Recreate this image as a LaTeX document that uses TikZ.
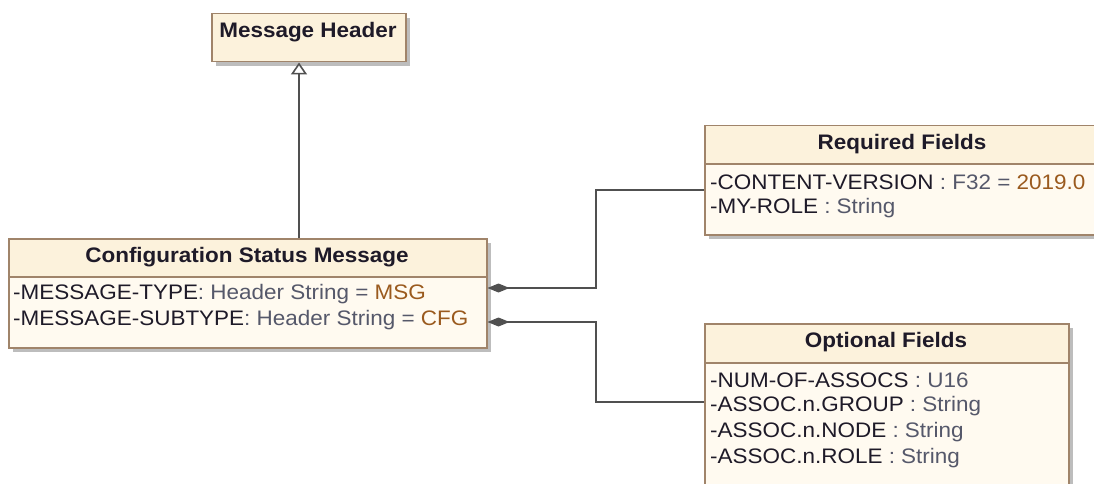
\documentclass[tikz,border=0pt]{standalone}
\usepackage{fontspec}
\setmainfont{Liberation Sans}[FakeStretch=1.07]
\usetikzlibrary{arrows.meta,calc,shadows}
\definecolor{bord}{HTML}{A0846A}
\definecolor{hfill}{HTML}{FCF2DC}
\definecolor{bfill}{HTML}{FFFAF0}
\definecolor{nm}{HTML}{1E1A28}
\definecolor{ty}{HTML}{55586A}
\definecolor{vl}{HTML}{9A5A1E}
\definecolor{ln}{HTML}{505050}
\definecolor{shd}{HTML}{BDBDBD}
\newcommand\aname[1]{\textcolor{nm}{#1}}
\newcommand\atype[1]{\textcolor{ty}{#1}}
\newcommand\aval[1]{\textcolor{vl}{#1}}
\begin{document}
\begin{tikzpicture}[x=1pt,y=-1pt,
  comp/.style={draw=bord, line width=1.5pt, inner sep=0pt, anchor=north west,
    drop shadow={shadow xshift=4pt, shadow yshift=-4pt, fill=shd, opacity=1}},
  hdr/.style={comp, fill=hfill},
  bdy/.style={comp, fill=bfill},
  ttl/.style={font=\bfseries\fontsize{21}{25}\selectfont, text=nm, inner sep=0pt},
  attr/.style={font=\fontsize{21}{25}\selectfont, text=nm, anchor=west, inner sep=0pt},
  conn/.style={draw=ln, line width=2pt},
  gen/.style={draw=ln, line width=1.6pt},
]
\useasboundingbox (0,0) rectangle (1094,484);
\clip (0,0) rectangle (1094,484);

% Message Header
\node[hdr, minimum width=194pt, minimum height=48pt] (mh) at (211,13) {};
\node[ttl] (mhT) at (308,32) {Message Header};

% Configuration Status Message
\node[hdr, minimum width=478pt, minimum height=38pt] (csmh) at (8,238) {};
\node[bdy, minimum width=478pt, minimum height=71pt] (csmb) at (8,276) {};
\node[ttl] (csmT) at (247,257) {Configuration Status Message};
\node[attr] (csm1) at (13,294) {\aname{-MESSAGE-TYPE}\atype{: Header String = }\aval{MSG}};
\node[attr] (csm2) at (13,320) {\aname{-MESSAGE-SUBTYPE}\atype{: Header String = }\aval{CFG}};

% Required Fields
\node[hdr, minimum width=396pt, minimum height=38pt] (rfh) at (704,125) {};
\node[bdy, minimum width=396pt, minimum height=71pt] (rfb) at (704,163) {};
\node[ttl] (rfT) at (902,144) {Required Fields};
\node[attr] (rf1) at (710,182) {\aname{-CONTENT-VERSION} \atype{: F32 = }\aval{2019.0}};
\node[attr] (rf2) at (710,208) {\aname{-MY-ROLE} \atype{: String}};

% Optional Fields
\node[hdr, minimum width=364pt, minimum height=39pt] (ofh) at (704,323) {};
\node[bdy, minimum width=364pt, minimum height=140pt] (ofb) at (704,362) {};
\node[ttl] (ofT) at (886,342) {Optional Fields};
\node[attr] (of1) at (710,380) {\aname{-NUM-OF-ASSOCS} \atype{: U16}};
\node[attr] (of2) at (710,406) {\aname{-ASSOC.n.GROUP} \atype{: String}};
\node[attr] (of3) at (710,432) {\aname{-ASSOC.n.NODE} \atype{: String}};
\node[attr] (of4) at (710,458) {\aname{-ASSOC.n.ROLE} \atype{: String}};

% Generalization
\coordinate (g) at ($(csmh.north west)+(291,0)$);
\draw[gen, -{Triangle[open, length=12pt, width=16pt, fill=white]}] (g) -- (g |- mh.south);

% Compositions
\coordinate (a1) at ($(csmb.north east)+(0,12)$);
\coordinate (a2) at ($(csmb.north east)+(0,46)$);
\coordinate (b1) at ($(rfb.north west)+(0,27)$);
\coordinate (b2) at ($(ofb.north west)+(0,40)$);
\draw[conn, {Diamond[length=22pt, width=9pt]}-] (a1) -| ($(a1)!0.5!(b1)$) |- (b1);
\draw[conn, {Diamond[length=22pt, width=9pt]}-] (a2) -| ($(a2)!0.5!(b2)$) |- (b2);
\end{tikzpicture}
\end{document}
